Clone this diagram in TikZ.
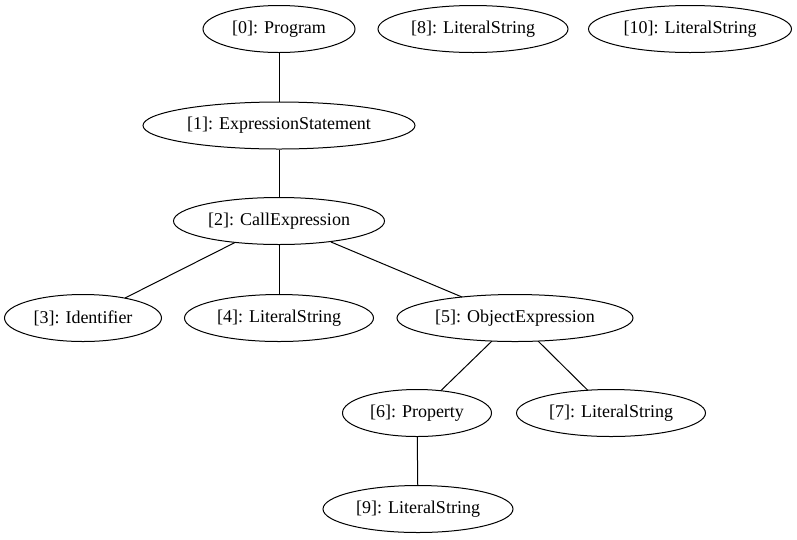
\documentclass[tikz,border=0pt]{standalone}
\usepackage{fontspec}
\setmainfont{Liberation Serif}
\usetikzlibrary{shapes.geometric,calc}
\begin{document}
\begin{tikzpicture}[x=1pt,y=-1pt,
  tn/.style={draw,ellipse,inner sep=0pt,minimum height=47pt,font=\fontsize{18}{20}\selectfont,line width=1pt},
  edge/.style={draw,line width=1pt}]
\useasboundingbox (0,0) rectangle (797,539);
\node[tn,minimum width=152pt] (n0) at (279,29) {[0]: Program};
\node[tn,minimum width=190pt] (n8) at (473,29) {[8]: LiteralString};
\node[tn,minimum width=203pt] (n10) at (690,29) {[10]: LiteralString};
\node[tn,minimum width=272pt] (n1) at (279,125.5) {[1]: ExpressionStatement};
\node[tn,minimum width=211pt] (n2) at (279,221) {[2]: CallExpression};
\node[tn,minimum width=157pt] (n3) at (83,318) {[3]: Identifier};
\node[tn,minimum width=189pt] (n4) at (279,318) {[4]: LiteralString};
\node[tn,minimum width=236pt] (n5) at (515,318) {[5]: ObjectExpression};
\node[tn,minimum width=149pt] (n6) at (417,413) {[6]: Property};
\node[tn,minimum width=189pt] (n7) at (611,413) {[7]: LiteralString};
\node[tn,minimum width=190pt] (n9) at (418,509) {[9]: LiteralString};
\draw[edge] (n0) -- (n1);
\draw[edge] (n1) -- (n2);
\draw[edge] ($(n2)+(-44,21.5)$) coordinate (e23a) -- ($(n3)+(42,-20)$) coordinate (e23b);
\draw[edge] (n2) -- (n4);
\draw[edge] ($(n2)+(52,21)$) coordinate (e25a) -- ($(n5)+(-53,-21)$) coordinate (e25b);
\draw[edge] ($(n5)+(-23,23)$) coordinate (e56a) -- ($(n6)+(24,-22.5)$) coordinate (e56b);
\draw[edge] ($(n5)+(23,23)$) coordinate (e57a) -- ($(n7)+(-23,-22.5)$) coordinate (e57b);
\draw[edge] (n6) -- (n9);
\end{tikzpicture}
\end{document}
